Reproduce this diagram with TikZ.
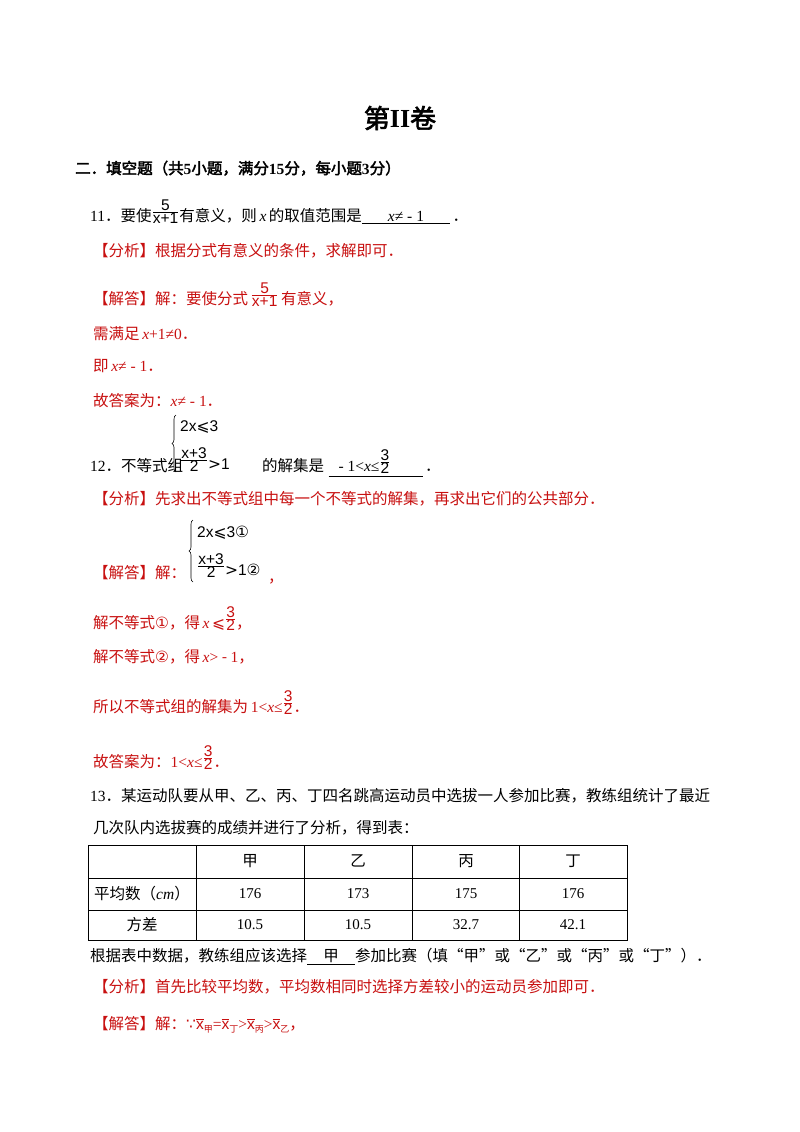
\documentclass[tikz,border=0pt]{standalone}
\usepackage{amsmath}
\usepackage{fontspec}
\usetikzlibrary{decorations.pathreplacing}
\setmainfont{Noto Sans CJK SC}
\newfontfamily\lt{Liberation Serif}
\newfontfamily\ltb{Liberation Serif Bold}
\newfontfamily\sa{Liberation Sans}
\newfontfamily\dv{DejaVu Sans}
\newfontfamily\cjkb[FakeBold=2.5]{Noto Sans CJK SC}
\definecolor{ans}{RGB}{200,16,16}
\newcommand{\myfrac}[2]{\raisebox{5pt}{$\genfrac{}{}{0.5pt}{}{\hbox{#1}}{\hbox{#2}}$}}
\newcommand{\xv}{{\lt\itshape x}}
\newcommand{\ob}[2]{$\overline{\hbox{\sa #1}}$\raisebox{-3pt}{\fontsize{9}{9}\selectfont #2}}
\begin{document}
\begin{tikzpicture}[x=1pt,y=-1pt,
  txt/.style={anchor=base west,inner sep=0pt,font=\fontsize{15.5}{18}\selectfont},
  red/.style={txt,text=ans},
  br/.style={decorate,decoration={brace,amplitude=4pt},line width=0.6pt}]
\useasboundingbox (0,0) rectangle (800,1132);
\fill[white] (0,0) rectangle (800,1132);
\node[anchor=center,inner sep=0pt,font=\fontsize{26}{30}\selectfont\cjkb] (title) at (400,118) {第{\ltb II}卷};
\node[txt,font=\fontsize{15.5}{18}\selectfont\cjkb] (h) at (75,174) {二．填空题（共{\ltb 5}小题，满分{\ltb 15}分，每小题{\ltb 3}分）};
\node[txt] (q11) at (90,221) {{\lt 11}．要使\myfrac{\sa 5}{\sa x+1}有意义，则\,\xv\,的取值范围是\underline{\makebox[88pt]{\xv{\lt≠ - 1}}}\,．};
\node[red] (a11) at (93,256) {【分析】根据分式有意义的条件，求解即可．};
\node[red] (b11) at (93,304) {【解答】解：要使分式\,\myfrac{\sa 5}{\sa x+1}\,有意义，};
\node[red] (c11) at (93,339) {需满足\,{\lt\itshape x}{\lt +1≠0}．};
\node[red] (d11) at (93,371) {即\,\xv{\lt ≠ - 1}．};
\node[red] (e11) at (93,406) {故答案为：\xv{\lt ≠ - 1}．};
% 12
\node[txt] (q12) at (90,471) {{\lt 12}．不等式组};
\draw[br] (176,472) -- (176,415);
\node[txt] (s1) at (180,431) {{\sa 2x}{\dv ⩽}{\sa 3}};
\node[txt] (s2) at (180,469) {\myfrac{\sa x+3}{\sa 2}{\dv >}{\sa 1}};
\node[txt] (q12b) at (262,471) {的解集是\;\underline{\makebox[94pt]{\hspace{10pt}{\lt - 1<}\xv{\lt ≤}\myfrac{\sa 3}{\sa 2}\hfill}}\,．};
\node[red] (a12) at (93,504) {【分析】先求出不等式组中每一个不等式的解集，再求出它们的公共部分．};
\draw[br] (193,582) -- (193,520);
\node[txt] (t1) at (197,537) {{\sa 2x}{\dv ⩽}{\sa 3}{\dv ①}};
\node[txt] (t2) at (197,575) {\myfrac{\sa x+3}{\sa 2}{\dv >}{\sa 1}{\dv ②}};
\node[red] (b12) at (93,578) {【解答】解：};
\node[red] (b12c) at (268,582) {，};
\node[red] (c12) at (93,628) {解不等式{\dv ①}，得\,\xv\,{\dv ⩽}\myfrac{\sa 3}{\sa 2}，};
\node[red] (d12) at (93,662) {解不等式{\dv ②}，得\,\xv{\lt >} - {\lt 1}，};
\node[red] (e12) at (93,712) {所以不等式组的解集为\,{\lt 1<}\xv{\lt ≤}\myfrac{\sa 3}{\sa 2}．};
\node[red] (f12) at (93,767) {故答案为：{\lt 1<}\xv{\lt ≤}\myfrac{\sa 3}{\sa 2}．};
% 13
\node[txt] (q13) at (90,801) {{\lt 13}．某运动队要从甲、乙、丙、丁四名跳高运动员中选拔一人参加比赛，教练组统计了最近};
\node[txt] (q13b) at (93,833) {几次队内选拔赛的成绩并进行了分析，得到表：};
\draw[line width=0.8pt] (88,845) rectangle (627,940);
\foreach \y in {878,910} \draw[line width=0.8pt] (88,\y) -- (627,\y);
\foreach \x in {196,304,412,519} \draw[line width=0.8pt] (\x,845) -- (\x,940);
\foreach \n/\x in {甲/250,乙/358,丙/466,丁/573}
  \node[anchor=center,font=\fontsize{15.5}{18}\selectfont] at (\x,861) {\n};
\node[anchor=center,font=\fontsize{15.5}{18}\selectfont] at (142,894) {平均数（{\lt\itshape cm}）};
\node[anchor=center,font=\fontsize{15.5}{18}\selectfont] at (142,925) {方差};
\foreach \v/\x in {176/250,173/358,175/466,176/573}
  \node[anchor=center,font=\fontsize{15}{18}\lt] at (\x,894) {\v};
\foreach \v/\x in {10.5/250,10.5/358,32.7/466,42.1/573}
  \node[anchor=center,font=\fontsize{15}{18}\lt] at (\x,925) {\v};
\node[txt] (r13) at (90,961) {根据表中数据，教练组应该选择\underline{\makebox[48pt]{甲}}参加比赛（填“甲”或“乙”或“丙”或“丁”）．};
\node[red] (a13) at (93,992) {【分析】首先比较平均数，平均数相同时选择方差较小的运动员参加即可．};
\node[red] (b13) at (93,1029) {【解答】解：{\dv ∵}\ob{x}{甲}{\lt =}\ob{x}{丁}{\lt >}\ob{x}{丙}{\lt >}\ob{x}{乙}，};
\end{tikzpicture}
\end{document}
